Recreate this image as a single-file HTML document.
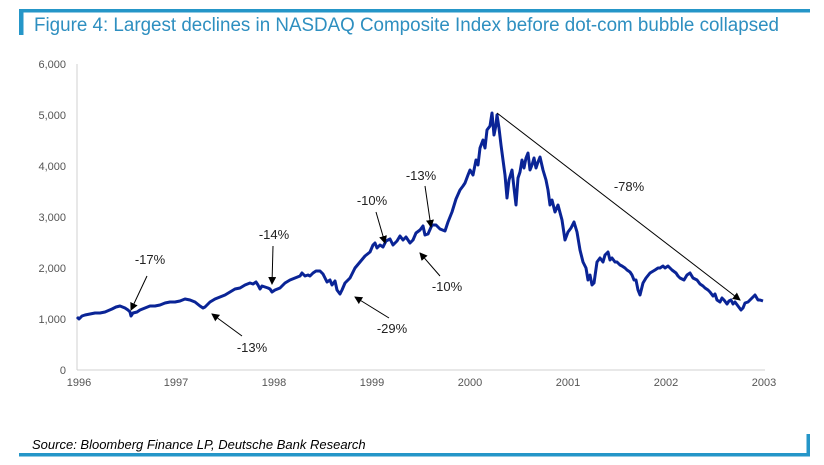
<!DOCTYPE html>
<html><head><meta charset="utf-8"><style>
html,body{margin:0;padding:0;background:#fff;}
body{width:824px;height:465px;overflow:hidden;position:relative;font-family:"Liberation Sans",sans-serif;}
</style></head><body>
<svg width="824" height="465" viewBox="0 0 824 465" xmlns="http://www.w3.org/2000/svg" style="position:absolute;left:0;top:0">
<defs><marker id="ah" markerWidth="8" markerHeight="8" refX="7" refY="4" orient="auto" markerUnits="userSpaceOnUse"><path d="M0,0 L8,4 L0,8 z" fill="#000"/></marker></defs>
<rect x="19" y="9" width="791" height="3.5" fill="#2596c8"/>
<rect x="19" y="9" width="4.5" height="26" fill="#2596c8"/>
<text x="34" y="31" font-size="19" fill="#2e8fc0" textLength="745" lengthAdjust="spacingAndGlyphs">Figure 4: Largest declines in NASDAQ Composite Index before dot-com bubble collapsed</text>
<rect x="19" y="453" width="791" height="3.5" fill="#2596c8"/>
<rect x="806.5" y="434" width="3.5" height="22" fill="#2596c8"/>
<text x="32" y="449" font-size="13" font-style="italic" fill="#000">Source: Bloomberg Finance LP, Deutsche Bank Research</text>
<line x1="77" y1="64" x2="77" y2="370" stroke="#d0d0d0" stroke-width="1"/>
<line x1="77" y1="370" x2="765" y2="370" stroke="#d0d0d0" stroke-width="1"/>
<g font-size="11" fill="#555" text-anchor="end">
<text x="66" y="68">6,000</text><text x="66" y="119">5,000</text><text x="66" y="170">4,000</text><text x="66" y="221">3,000</text><text x="66" y="272">2,000</text><text x="66" y="323">1,000</text><text x="66" y="374">0</text>
</g>
<g font-size="11" fill="#555" text-anchor="middle">
<text x="79" y="386">1996</text><text x="176" y="386">1997</text><text x="274" y="386">1998</text><text x="372" y="386">1999</text><text x="470" y="386">2000</text><text x="568" y="386">2001</text><text x="666" y="386">2002</text><text x="764" y="386">2003</text>
</g>
<polyline fill="none" stroke="#0a2496" stroke-width="3" stroke-linejoin="round" points="77,317 79,319 82,316 85,315 90,314 95,313 100,313 105,312 112,309 116,307 120,306 125,308 128,310 130,312 131,316 133,313 137,312 140,310 145,308 150,306 155,306 160,305 165,303 170,302 175,302 180,301 185,299 190,300 195,302 200,306 203,308 205,307 208,304 210,302 215,299 220,297 225,295 230,292 235,289 240,288 245,285 250,283 253,284 256,282 258,285 260,289 262,286 265,287 268,288 270,289 272,292 275,290 280,288 285,283 290,280 295,278 300,276 302,273 305,276 308,275 310,276 313,273 316,271 320,271 323,274 325,278 327,282 330,280 332,285 335,281 337,290 340,294 342,290 345,283 350,278 355,268 360,262 365,256 370,252 373,245 375,243 377,248 380,245 383,247 386,241 390,239 393,245 397,241 400,236 403,240 406,237 410,243 413,240 416,233 420,230 423,226 425,235 428,234 432,225 436,225 440,229 445,231 448,222 452,212 456,199 460,190 463,186 465,183 468,175 470,170 473,175 476,160 478,165 480,148 483,140 485,148 487,130 490,126 492,113 494,135 496,125 497,115 499,128 501,145 503,160 505,175 507,198 509,180 512,170 514,188 516,205 518,178 520,172 522,160 524,168 526,158 528,153 530,170 532,165 534,158 536,168 538,162 540,157 543,170 546,180 548,190 550,205 552,200 555,212 558,205 562,220 565,240 568,232 571,228 574,222 577,232 580,250 583,262 586,268 588,280 590,275 592,285 594,283 597,262 600,258 603,262 605,255 608,252 610,260 612,258 615,262 617,262 620,265 622,266 625,268 627,270 630,272 632,275 634,280 636,280 638,290 640,295 643,283 646,278 650,273 655,270 658,268 660,268 663,266 665,268 668,266 672,270 676,273 678,276 680,278 684,280 687,275 690,273 693,278 697,280 700,284 703,286 705,288 708,290 710,292 713,296 715,294 717,300 720,302 722,298 724,300 727,304 729,301 731,300 733,304 735,302 738,306 741,310 743,308 745,303 748,302 750,300 752,298 755,295 758,300 760,300 763,301"/>
<line x1="497" y1="113" x2="740" y2="300" stroke="#000" stroke-width="1" marker-end="url(#ah)"/>
<g stroke="#000" stroke-width="1" marker-end="url(#ah)">
<line x1="147" y1="276" x2="131" y2="310"/>
<line x1="242" y1="336" x2="212" y2="314"/>
<line x1="273" y1="246" x2="272" y2="284"/>
<line x1="389" y1="318" x2="355" y2="297"/>
<line x1="376" y1="212" x2="385" y2="243"/>
<line x1="425" y1="186" x2="431" y2="227"/>
<line x1="440" y1="276" x2="420" y2="253"/>
</g>
<g font-size="13" fill="#222" text-anchor="middle">
<text x="150" y="264">-17%</text>
<text x="252" y="352">-13%</text>
<text x="274" y="239">-14%</text>
<text x="392" y="333">-29%</text>
<text x="372" y="205">-10%</text>
<text x="421" y="180">-13%</text>
<text x="447" y="291">-10%</text>
<text x="629" y="191">-78%</text>
</g>
</svg>
</body></html>
